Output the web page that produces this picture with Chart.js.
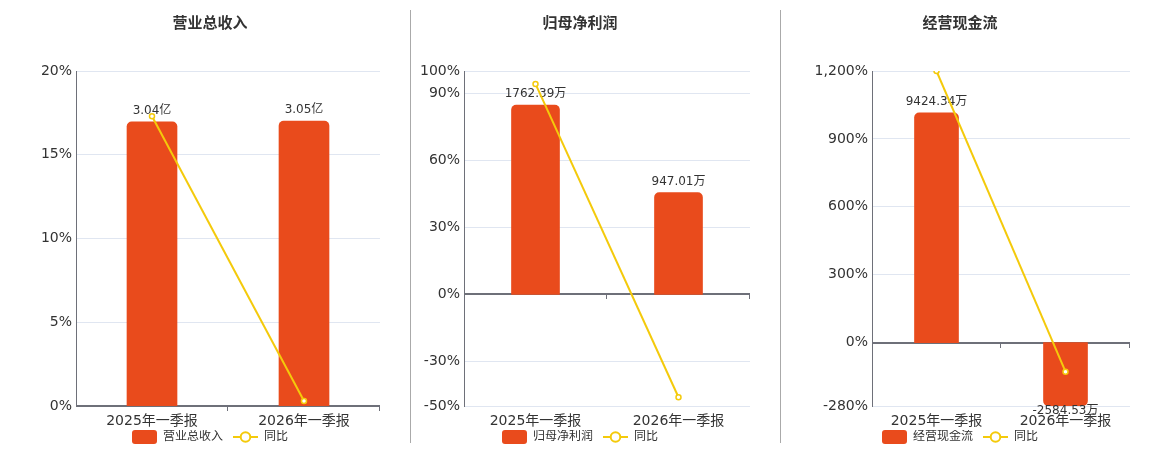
<!DOCTYPE html>
<html>
<head>
<meta charset="utf-8">
<script src="https://cdn.jsdelivr.net/npm/chart.js@4.4.1/dist/chart.umd.min.js"></script>
<style>
  body { margin: 0; background: #fff; }
  #wrap { position: relative; width: 1160px; height: 450px; overflow: hidden; }
  canvas { position: absolute; top: 0; }
  .sep { position: absolute; top: 10px; width: 1px; height: 433px; background: #aaaaaa; }
</style>
</head>
<body>
<div id="wrap">
  <canvas id="revenueChart" width="420" height="450" style="left:0px"></canvas>
  <canvas id="profitChart" width="360" height="450" style="left:400px"></canvas>
  <canvas id="cashChart" width="360" height="450" style="left:780px"></canvas>
  <div class="sep" style="left:410px"></div>
  <div class="sep" style="left:780px"></div>
</div>
<script>
// data
const categories = ['2025年一季报', '2026年一季报'];

const revenueValues = [3.04, 3.05];          // 亿
const revenueYoy = [17.3, 0.3];              // %
const revenueTicks = [0, 5, 10, 15, 20];
const revenueBarRange = [0, 3.585];

const profitValues = [1762.39, 947.01];      // 万
const profitYoy = [94.2, -46.1];
const profitTicks = [-50, -30, 0, 30, 60, 90, 100];
const profitBarRange = [-1039.8, 2079.5];

const cashValues = [9424.34, -2584.53];      // 万
const cashYoy = [1200, -128.5];
const cashTicks = [-280, 0, 300, 600, 900, 1200];
const cashBarRange = [-2600, 11140];

const BAR_COLOR = '#E94B1C';
const LINE_COLOR = '#F4CA0B';
const GRID_COLOR = '#E0E6F1';
const AXIS_COLOR = '#6E7079';

Chart.defaults.font.family = '"DejaVu Sans", "Noto Sans CJK SC", sans-serif';
Chart.defaults.color = '#333';

// legend icons
function makeBarIcon() {
  const c = document.createElement('canvas');
  c.width = 25; c.height = 14;
  const g = c.getContext('2d');
  g.fillStyle = BAR_COLOR;
  g.beginPath();
  g.roundRect(0, 0, 25, 14, 3);
  g.fill();
  return c;
}
function makeLineIcon() {
  const c = document.createElement('canvas');
  c.width = 25; c.height = 14;
  const g = c.getContext('2d');
  g.strokeStyle = LINE_COLOR;
  g.lineWidth = 2;
  g.beginPath();
  g.moveTo(0, 7); g.lineTo(25, 7);
  g.stroke();
  g.fillStyle = '#fff';
  g.beginPath();
  g.arc(12.5, 7, 4.8, 0, Math.PI * 2);
  g.fill();
  g.stroke();
  return c;
}
const barIcon = makeBarIcon();
const lineIcon = makeLineIcon();

// value labels on bars
const barLabels = {
  id: 'barLabels',
  afterDatasetDraw(chart, args, opts) {
    if (args.meta.type !== 'bar') return;
    const ctx = chart.ctx;
    const values = chart.data.datasets[args.index].data;
    ctx.save();
    ctx.font = '12px "DejaVu Sans", "Noto Sans CJK SC", sans-serif';
    ctx.fillStyle = '#333';
    ctx.textAlign = 'center';
    args.meta.data.forEach((bar, i) => {
      const v = values[i];
      const text = v.toFixed(2) + opts.unit;
      if (v >= 0) {
        ctx.textBaseline = 'bottom';
        ctx.fillText(text, bar.x, bar.y - 5);
      } else {
        ctx.textBaseline = 'top';
        ctx.fillText(text, bar.x, bar.y - 1);
      }
    });
    ctx.restore();
  }
};

// short ticks at category boundaries on the zero line
const zeroTicks = {
  id: 'zeroTicks',
  afterDraw(chart) {
    const { ctx, chartArea } = chart;
    const y = Math.round(chart.scales.y.getPixelForValue(0));
    const n = chart.data.labels.length;
    const step = (chartArea.right - chartArea.left) / n;
    ctx.save();
    ctx.strokeStyle = AXIS_COLOR;
    ctx.lineWidth = 1;
    for (let i = 1; i <= n; i++) {
      const x = Math.round(chartArea.left + i * step) - 0.5;
      ctx.beginPath();
      ctx.moveTo(x, y);
      ctx.lineTo(x, y + 5);
      ctx.stroke();
    }
    ctx.restore();
  }
};

function makeChart(id, cfg) {
  return new Chart(document.getElementById(id), {
    type: 'bar',
    data: {
      labels: categories,
      datasets: [
        {
          label: cfg.name,
          data: cfg.values,
          yAxisID: 'y1',
          backgroundColor: BAR_COLOR,
          borderRadius: 5,
          borderSkipped: 'start',
          barThickness: cfg.barWidth,
          order: 2,
        },
        {
          type: 'line',
          label: '同比',
          data: cfg.yoy,
          yAxisID: 'y',
          borderColor: LINE_COLOR,
          borderWidth: 2,
          pointRadius: 2.5,
          pointBorderWidth: 1.5,
          pointBackgroundColor: '#fff',
          pointBorderColor: LINE_COLOR,
          tension: 0,
          order: 1,
        }
      ]
    },
    options: {
      responsive: false,
      animation: false,
      layout: { padding: { top: 0, left: 0, right: 0, bottom: -3 } },
      plugins: {
        title: {
          display: true,
          text: cfg.name,
          color: '#333',
          font: { size: 15, weight: 'bold' },
          padding: { top: 15, bottom: 38 },
        },
        legend: {
          position: 'bottom',
          // empty title with negative padding pulls the items up towards the axis labels
          title: { display: true, text: '', font: { size: 1, lineHeight: 1 }, padding: { top: 0, bottom: -10 } },
          labels: {
            usePointStyle: true,
            pointStyleWidth: 25,
            boxHeight: 14,
            padding: 10,
            color: '#333',
            font: { size: 12 },
            sort: (a, b) => a.datasetIndex - b.datasetIndex,
            generateLabels: chart => {
              const items = Chart.defaults.plugins.legend.labels.generateLabels(chart);
              items.forEach(it => { it.pointStyle = it.datasetIndex === 0 ? barIcon : lineIcon; });
              return items;
            },
          },
        },
        tooltip: { enabled: false },
        barLabels: { unit: cfg.unit },
      },
      scales: {
        x: {
          grid: { display: false, drawTicks: false },
          border: { display: false },
          ticks: { font: { size: 14 }, color: '#333', padding: 7 },
          afterFit: s => { s.height = 24; },
        },
        y: {
          position: 'left',
          min: cfg.ticks[0],
          max: cfg.ticks[cfg.ticks.length - 1],
          afterBuildTicks: s => { s.ticks = cfg.ticks.map(v => ({ value: v })); },
          grid: {
            drawTicks: false,
            color: c => (c.tick && c.tick.value === 0 ? AXIS_COLOR : GRID_COLOR),
            lineWidth: c => (c.tick && c.tick.value === 0 ? 2 : 1),
          },
          border: { display: true, color: AXIS_COLOR, width: 1 },
          ticks: {
            font: { size: 14 },
            color: '#333',
            padding: 4,
            callback: v => v.toLocaleString('en-US') + '%',
          },
          afterFit: s => { s.width = cfg.leftWidth; },
        },
        y1: {
          position: 'right',
          min: cfg.barRange[0],
          max: cfg.barRange[1],
          grid: { display: false, drawTicks: false },
          border: { display: false },
          ticks: { display: false },
          afterFit: s => { s.width = cfg.rightWidth; },
        },
      },
    },
    plugins: [barLabels, zeroTicks],
  });
}

makeChart('revenueChart', {
  name: '营业总收入', unit: '亿', values: revenueValues, yoy: revenueYoy,
  ticks: revenueTicks, barRange: revenueBarRange, barWidth: 50, leftWidth: 76, rightWidth: 40,
});
makeChart('profitChart', {
  name: '归母净利润', unit: '万', values: profitValues, yoy: profitYoy,
  ticks: profitTicks, barRange: profitBarRange, barWidth: 48, leftWidth: 64, rightWidth: 10,
});
makeChart('cashChart', {
  name: '经营现金流', unit: '万', values: cashValues, yoy: cashYoy,
  ticks: cashTicks, barRange: cashBarRange, barWidth: 44, leftWidth: 92, rightWidth: 10,
});
</script>
</body>
</html>
